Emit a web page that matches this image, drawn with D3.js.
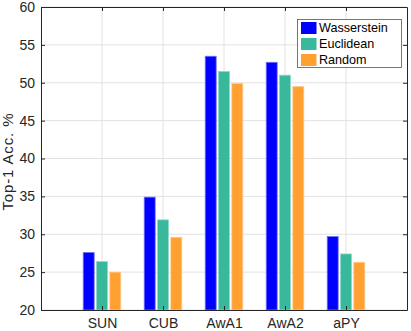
<!DOCTYPE html>
<html><head><meta charset="utf-8">
<script src="https://cdn.jsdelivr.net/npm/d3@7"></script>
<style>
html,body{margin:0;padding:0;background:#fff;}
svg{display:block;font-family:"Liberation Sans",Arial,Helvetica,sans-serif;}
</style></head>
<body>
<svg id="chart" width="411" height="331"></svg>
<script>
const categories = ["SUN", "CUB", "AwA1", "AwA2", "aPY"];
const seriesNames = ["Wasserstein", "Euclidean", "Random"];
const wasserstein = [27.6, 34.9, 53.5, 52.7, 29.7];
const euclidean   = [26.4, 31.9, 51.5, 51.0, 27.4];
const random      = [25.0, 29.6, 49.9, 49.5, 26.3];
const seriesColors = ["#0000ff", "#38b99b", "#ffa030"];
const yTicks = [20, 25, 30, 35, 40, 45, 50, 55, 60];
const yLabel = "Top-1 Acc. %";

const series = [wasserstein, euclidean, random];
const svg = d3.select("#chart");
const axisColor = "#262626";

const x = d3.scaleLinear().domain([0, 6]).range([41, 407]);
const y = d3.scaleLinear().domain([20, 60]).range([310, 7]);
const catPos = categories.map((c, i) => i + 1);
const offset = 0.218, barW = 0.18;

// grid
const grid = svg.append("g");
grid.selectAll("line.gy").data(yTicks).join("line")
  .attr("x1", x(0)).attr("x2", x(6))
  .attr("y1", d => y(d)).attr("y2", d => y(d))
  .attr("stroke", "#e2e2e2").attr("stroke-width", 1);
grid.selectAll("line.gx").data(catPos).join("line")
  .attr("x1", d => x(d)).attr("x2", d => x(d))
  .attr("y1", y(20)).attr("y2", y(60))
  .attr("stroke", "#e2e2e2").attr("stroke-width", 1);

// bars
series.forEach((vals, si) => {
  const col = seriesColors[si];
  const edge = d3.interpolateRgb(col, "#ffffff")(0.45);
  svg.append("g").selectAll("rect").data(vals).join("rect")
    .attr("x", (d, i) => x(catPos[i] + (si - 1) * offset - barW / 2))
    .attr("width", x(barW) - x(0))
    .attr("y", d => y(d))
    .attr("height", d => y(20) - y(d))
    .attr("fill", col)
    .attr("stroke", edge).attr("stroke-width", 0.8);
});

// axes
function style(g) {
  g.select(".domain").attr("stroke", axisColor);
  g.selectAll(".tick line").attr("stroke", axisColor);
  g.selectAll(".tick text").attr("fill", axisColor).attr("font-size", 14)
    .attr("font-family", "Liberation Sans, Arial, sans-serif");
}
svg.append("g").attr("transform", `translate(${x(0)},0)`)
  .call(d3.axisLeft(y).tickValues(yTicks).tickSize(-4).tickSizeOuter(0).tickPadding(6))
  .call(style);
svg.append("g").attr("transform", `translate(${x(6)},0)`)
  .call(d3.axisRight(y).tickValues(yTicks).tickSize(-4).tickSizeOuter(0).tickFormat(""))
  .call(style);
svg.append("g").attr("transform", `translate(0,${y(20)})`)
  .call(d3.axisBottom(x).tickValues(catPos).tickSize(-4).tickSizeOuter(0).tickPadding(8)
    .tickFormat((d, i) => categories[i]))
  .call(style);
svg.append("g").attr("transform", `translate(0,${y(60)})`)
  .call(d3.axisTop(x).tickValues(catPos).tickSize(-4).tickSizeOuter(0).tickFormat(""))
  .call(style);

// y label
svg.append("text")
  .attr("transform", `translate(13,162) rotate(-90)`)
  .attr("text-anchor", "middle")
  .attr("font-size", 15).attr("fill", axisColor)
  .attr("textLength", 97).attr("lengthAdjust", "spacing")
  .text(yLabel);

// legend
const lg = svg.append("g");
lg.append("rect").attr("x", 297.5).attr("y", 19.5).attr("width", 104).attr("height", 48)
  .attr("fill", "#fff").attr("stroke", "#555").attr("stroke-width", 0.8);
seriesNames.forEach((n, i) => {
  const cy = 28 + i * 16;
  lg.append("rect").attr("x", 301).attr("y", cy - 6).attr("width", 15.5).attr("height", 12)
    .attr("fill", seriesColors[i]);
  lg.append("text").attr("x", 319).attr("y", cy).attr("dy", "0.35em")
    .attr("font-size", 12.6).attr("fill", "#000").text(n);
});
</script>
</body></html>
